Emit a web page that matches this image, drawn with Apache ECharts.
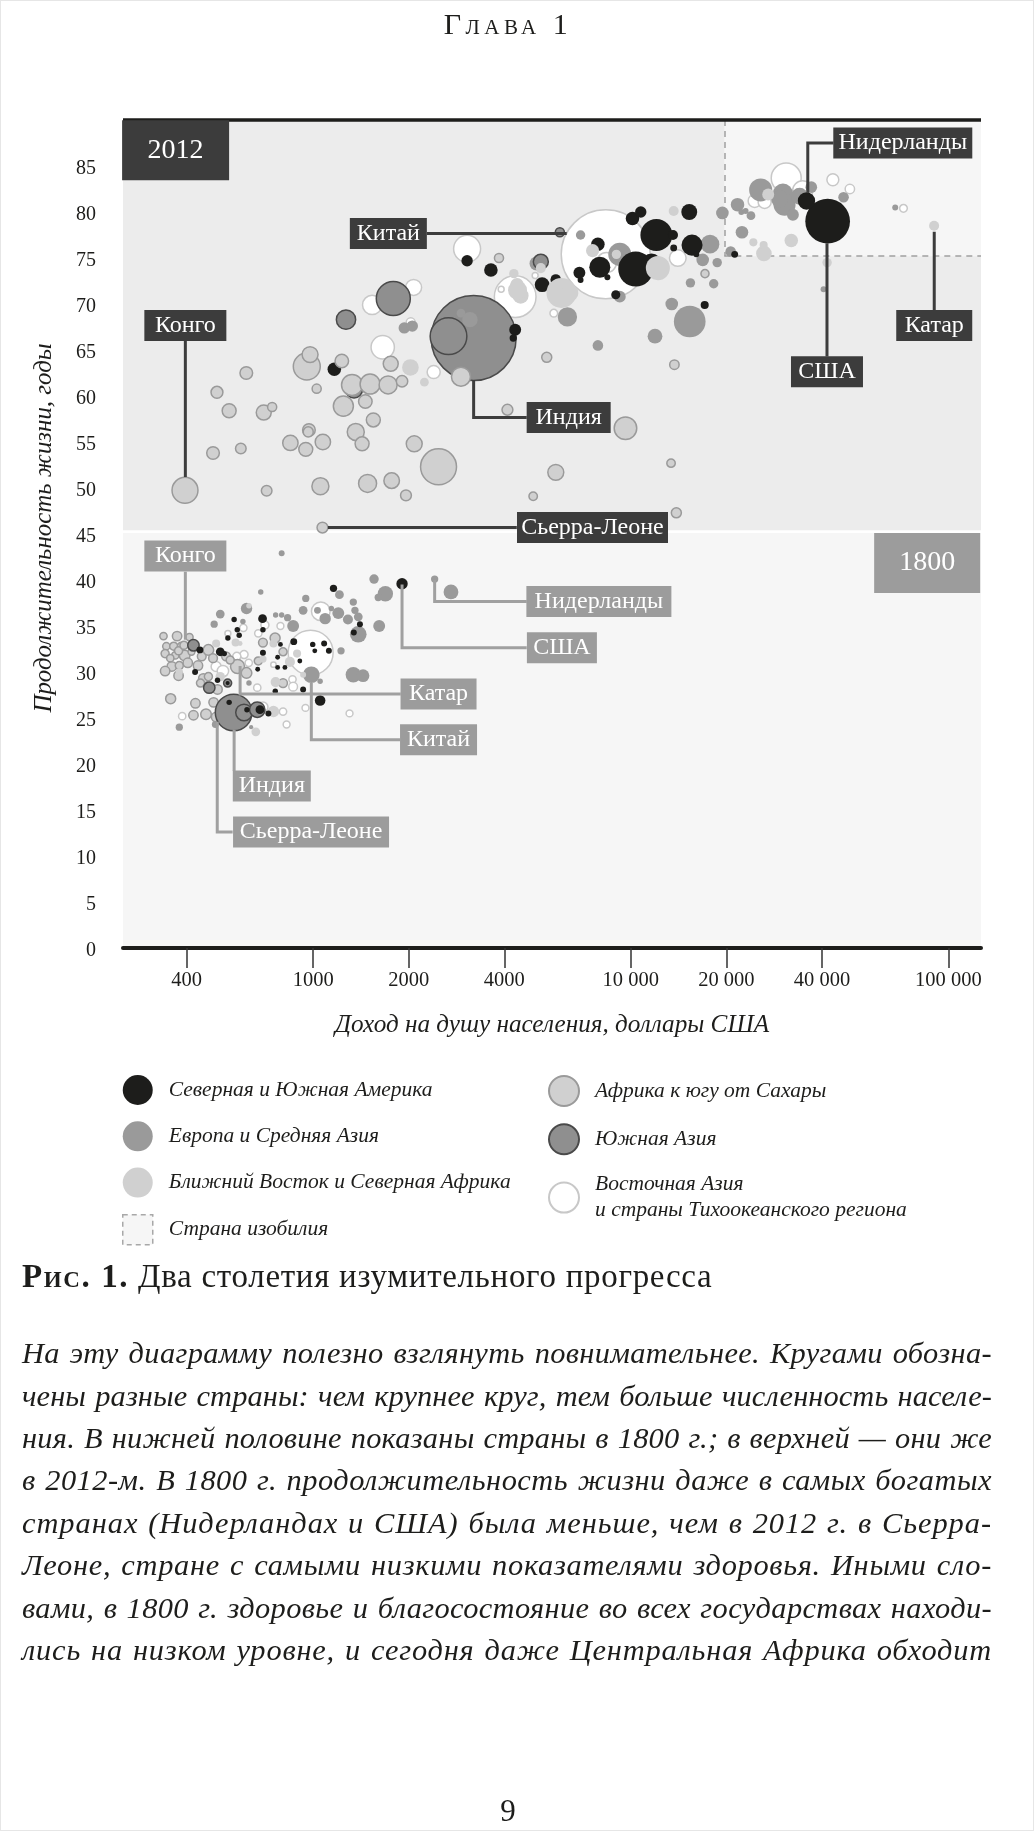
<!DOCTYPE html>
<html lang="ru">
<head>
<meta charset="utf-8">
<title>Два столетия изумительного прогресса</title>
<script src="https://cdn.jsdelivr.net/npm/echarts@6/dist/echarts.min.js"></script>
<style>
html,body{margin:0;padding:0;background:#fff;}
#page{position:relative;width:1034px;height:1831px;overflow:hidden;font-family:"Liberation Serif",serif;color:#1d1d1b;}
#chart{position:absolute;left:0;top:0;width:1034px;height:1831px;}
.t{position:absolute;white-space:nowrap;}
#head{left:0;width:1016px;top:7px;text-align:center;font-size:30px;font-variant:small-caps;letter-spacing:4.5px;line-height:34px;}
#cap{left:22px;top:1256px;font-size:33px;line-height:40px;letter-spacing:.7px;}
#cap b{font-variant:small-caps;letter-spacing:1.6px;}
.p{left:22px;width:970px;font-style:italic;font-size:30.4px;line-height:42px;text-align:justify;text-align-last:justify;}
#num{left:0;width:1016px;top:1793px;text-align:center;font-size:31px;line-height:36px;}
#edge{position:absolute;left:0;top:0;width:1032px;height:1829px;border:1px solid #e6e6e6;pointer-events:none;}
</style>
</head>
<body>
<div id="page">
<div id="chart"></div>
<div id="edge"></div>
<div class="t" id="head">Глава 1</div>
<div class="t" id="cap"><b>Рис. 1.</b> Два столетия изумительного прогресса</div>
<div class="t p" style="top:1332px">На эту диаграмму полезно взглянуть повнимательнее. Кругами обозна-</div>
<div class="t p" style="top:1375px">чены разные страны: чем крупнее круг, тем больше численность населе-</div>
<div class="t p" style="top:1417px">ния. В нижней половине показаны страны в 1800 г.; в верхней — они же</div>
<div class="t p" style="top:1459px">в 2012-м. В 1800 г. продолжительность жизни даже в самых богатых</div>
<div class="t p" style="top:1502px">странах (Нидерландах и США) была меньше, чем в 2012 г. в Сьерра-</div>
<div class="t p" style="top:1544px">Леоне, стране с самыми низкими показателями здоровья. Иными сло-</div>
<div class="t p" style="top:1587px">вами, в 1800 г. здоровье и благосостояние во всех государствах находи-</div>
<div class="t p" style="top:1629px">лись на низком уровне, и сегодня даже Центральная Африка обходит</div>
<div class="t" id="num">9</div>
</div>
<script>
// Each point: [income per person, USD; life expectancy, years; population, millions]
const eastAsia2012 = [[8340,75.4,1341],[3053,76,123],[2072,71.8,43],[1534,69.9,63],[1656,65.3,92],[2396,62.6,29],[4326,70.8,294],[3908,71.6,6],[5000,73.1,6],[14060,75,47],[5723,69,10],[8382,74.5,68],[30860,83.7,152],[34750,82.3,68],[43270,83.5,24],[48950,82.5,15],[72200,80.4,10],[24550,81.2,29],[26390,81.1,29],[2029,68,14]];
const europe2012 = [[25640,82.4,90],[30130,82,68],[30490,80.8,82],[32390,79.7,24],[37010,82.7,23],[46760,81.6,19],[34006,81.7,49],[29420,81.4,49],[21680,80.8,31],[22290,80,6],[22990,80.1,6],[23900,79.6,13],[19430,79.9,27],[22390,77.8,27],[68000,80.5,6],[40450,71.6,6],[20630,75.7,19],[17760,76.5,59],[16845,74.8,27],[18710,74.5,15],[15410,72.3,15],[18240,72.2,15],[13460,70,27],[15332,68.1,170],[11920,66.5,37],[7880,65.5,19],[9235,70.8,24],[6950,77.5,15],[6317,68.6,63],[9235,75.4,90],[5050,74.4,33],[1936,67.4,22],[2052,67.6,22]];
const southAsia2012 = [[3201,66.3,1224],[2668,66.5,228],[1788,70.6,196],[1269,68.3,63],[5980,77.8,14],[5210,74.6,38],[1345,60.7,49]];
const overIndia2012 = [[2920,69,13],[3117,68.3,40]];
const americas2012 = [[41670,79,338],[35740,81.2,51],[12040,77.5,173],[13580,77.5,17],[15280,80,43],[10125,79.3,31],[10750,80,22],[15590,76.4,75],[13650,76.1,8],[16080,75.4,6],[21240,75.4,8],[10365,73.8,207],[11620,74.4,68],[7990,74,75],[7880,76.5,31],[6890,73.4,24],[6950,72.6,6],[8440,72.9,6],[8970,71,14],[5795,72.6,17],[17090,69.9,11],[3053,74.7,22],[3628,73.7,31],[5260,72.1,37],[4326,67.2,24],[4265,66.3,9],[1166,62.9,31],[5807,72.7,17]];
const mena2012 = [[90150,78.5,17],[27080,81.9,24],[32010,76.9,31],[26250,75.5,41],[26200,76.4,11],[24320,76.7,11],[41500,74.5,15],[13650,80.1,17],[12170,73.9,98],[7580,75.8,29],[6050,71.2,152],[6430,71.2,49],[4285,73.3,15],[4385,72.1,31],[4500,70.9,43],[5210,73.9,17],[2024,63.1,47],[2240,61.5,13],[4400,71.5,61]];
const africa2012 = [[395,49.75,114],[484,53.8,27],[592,54.3,19],[498,60.4,24],[544,58.4,33],[616,62.5,27],[699,58.2,38],[743,58.8,14],[714,49.7,19],[848,54.9,40],[948,54.2,33],[1073,55,40],[970,56.3,27],[965,56.1,17],[1054,50.2,49],[955,63.2,123],[978,64.5,43],[1026,60.8,14],[1231,63.8,31],[1326,61.2,75],[1511,61.3,68],[1722,61.2,55],[1905,61.6,22],[1755,63.5,38],[1245,58.9,68],[1460,59.4,31],[1547,57.4,33],[1362,56.1,49],[1426,54.8,33],[1484,50.5,55],[1767,50.8,41],[1960,49.2,20],[2081,54.8,43],[2482,52.3,219],[1070,45.7,20],[4090,58.5,20],[4929,49.1,12],[5438,64.2,17],[5807,51.7,43],[9623,56.5,86],[13390,52.7,12],[13914,47.3,17],[13720,63.4,15],[2920,62.1,61],[3847,75,14],[17126,73.3,11],[9011,75.4,20]];

const eastAsia1800 = [[982,32.1,343],[1057,36.6,59],[539,34.2,6],[603,34.8,9],[705,35.1,11],[672,34.2,9],[789,35,8],[606,31.9,11],[575,31.7,11],[627,31,9],[495,30.6,17],[520,30.1,22],[750,30.8,5],[667,28.3,9],[861,29.2,9],[865,28.4,13],[946,26.1,8],[804,25.7,9],[825,24.3,8],[387,25.2,9],[1302,25.5,8],[695,26.2,17]];
const europe1800 = [[796,42.9,6],[1555,40.1,15],[1210,38.4,13],[1688,38.5,40],[1603,38.1,9],[1338,37.6,9],[1354,36.7,9],[1387,36,13],[948,38,9],[930,36.7,13],[684,38.7,5],[510,36.3,13],[488,35.2,9],[601,35.5,5],[762,36.2,5],[796,36.2,5],[831,35.9,9],[865,35,24],[1032,36.7,8],[1141,36.9,5],[1200,36.4,24],[1091,35.8,22],[1287,35.7,17],[1614,35,24],[1387,34.1,47],[1224,32.3,9],[1338,29.7,40],[1436,29.6,27],[987,29.7,47],[1052,29,5],[628,28.8,5],[379,24,9],[617,36.9,22],[2413,40.1,9],[2716,38.7,37],[638,24,3],[492,24.3,8]];
const southAsia1800 = [[562,25.6,228],[606,25.6,47],[667,25.9,40],[420,32.9,22],[471,28.3,22],[538,28.8,11]];
const americas1800 = [[1905,39.6,22],[1159,39.1,9],[564,35.7,5],[693,35.8,13],[695,34.6,5],[577,34.6,5],[585,34,5],[539,33.7,5],[440,32.4,8],[510,32.2,13],[525,32,5],[695,32.1,6],[789,33,4],[869,33.3,8],[997,33,5],[1083,33.1,6],[1012,32.3,4],[1121,32.3,6],[908,31.2,4],[773,31.6,4],[773,30.5,4],[815,30.5,4],[669,30.3,4],[425,30,6],[500,29.1,5],[538,28.8,3],[930,28.1,6],[760,27.9,5],[1404,35.2,6],[1343,34.3,6],[1052,26.9,19],[544,26.7,5],[619,25.9,5],[680,25.9,13],[723,25.5,6]];
const mena1800 = [[628,37.2,5],[495,33.1,11],[570,33.2,11],[589,33.1,4],[379,30,9],[510,29.5,15],[762,28.9,17],[750,25.7,22],[660,23.5,13],[930,29.7,6],[890,32,11],[845,31.1,17],[695,31.4,9],[750,33.1,11]];
const africa1800 = [[338,33.9,9],[373,33.9,15],[408,33.8,9],[345,32.8,9],[364,32.8,11],[385,32.8,11],[342,32,11],[368,31.8,9],[394,31.8,19],[377,32.3,11],[359,30.6,15],[342,30.1,15],[379,30.7,11],[403,31,15],[377,29.6,15],[434,30.7,15],[446,31.7,13],[468,32.4,19],[484,31.5,13],[532,31.7,13],[451,29.3,15],[442,28.8,11],[500,28.1,15],[486,26.7,15],[426,26.6,15],[420,25.3,15],[460,25.4,19],[495,25.1,15],[356,27.1,17],[578,30.6,33],[617,29.9,19],[695,33.2,13],[759,33.7,17],[672,31.2,11],[804,32.2,11],[804,28.8,13],[392,32.9,11],[355,31.5,9],[414,32.2,8],[468,29.5,11],[548,31.3,11]];

const xTicks = [400,1000,2000,4000,10000,20000,40000,100000];
const yTicks = [0,5,10,15,20,25,30,35,40,45,50,55,60,65,70,75,80,85];
const incomeMin = 252, incomeMax = 126650, lifeMax = 90;
const abundanceIncome = 19700, abundanceLife = 75.2;

// Callouts: [label centre income, life, text, box width]
const callouts2012 = [[1725,77.66,'Китай',77],[396,67.67,'Конго',82],[6375,57.66,'Индия',84],[7577,45.7,'Сьерра-Леоне',151],[71840,87.5,'Нидерланды',139],[90240,67.66,'Катар',76],[41470,62.63,'США',72]];
const callouts1800 = [[396,42.6,'Конго',82],[7936,37.66,'Нидерланды',145],[6070,32.64,'США',70],[2482,27.6,'Катар',76],[2482,22.64,'Китай',77],[741,17.6,'Индия',78],[985,12.6,'Сьерра-Леоне',156]];
const years = [[369,86.7,'2012',107,'#3c3c3c'],[85720,41.85,'1800',106,'#9c9c9c']];
const leaders2012 = [
 [[2280,77.66],[6285,77.66]],
 [[396,66],[396,51.2]],
 [[3201,61.74],[3201,57.66],[4704,57.66]],
 [[1113,45.7],[4377,45.7]],
 [[43490,87.5],[36080,87.5],[36080,82.07]],
 [[90240,77.86],[90240,69.35]],
 [[41470,76.6],[41470,64.3]]
];
const leaders1800 = [
 [[396,40.9],[396,33.5]],
 [[2413,40],[2413,37.66],[4704,37.66]],
 [[1905,39.5],[1905,32.64],[4704,32.64]],
 [[589,30.65],[589,27.6],[1887,27.6]],
 [[987,28.8],[987,22.64],[1877,22.64]],
 [[564,23.7],[564,19.24]],
 [[499,24.6],[499,12.6],[558,12.6]]
];

const REG = {
  am:'Северная и Южная Америка', eu:'Европа и Средняя Азия', me:'Ближний Восток и Северная Африка',
  ab:'Страна изобилия', af:'Африка к югу от Сахары', sa:'Южная Азия',
  ea:'Восточная Азия\nи страны Тихоокеанского региона'
};
const STYLE = {
  am:{color:'#1d1d1b'},
  eu:{color:'#9a9a9a'},
  me:{color:'#d0d0d0'},
  af:{color:'#d0d0d0',borderColor:'#9a9a9a',borderWidth:1.5},
  sa:{color:'#8f8f8f',borderColor:'#4a4a4a',borderWidth:1.5},
  ea:{color:'#ffffff',borderColor:'#c8c8c8',borderWidth:1.5}
};
const SERIF = '"Liberation Serif",serif';
const DARK = '#3c3c3c', LIGHT = '#a0a0a0';

const bubbles = (key, data) => ({
  type:'scatter', name:REG[key], data, z:3, silent:true,
  symbol:'circle', symbolSize:d => 2.43*Math.sqrt(d[2]),
  itemStyle:Object.assign({opacity:1}, STYLE[key]), animation:false
});
const leader = (pts, color) => ({
  type:'line', data:pts, showSymbol:false, symbol:'none', silent:true, z:4, animation:false,
  lineStyle:{color, width:3, cap:'butt', join:'miter'}
});
const boxes = (rows, bg) => ({
  type:'scatter', symbolSize:0, silent:true, z:6, animation:false, itemStyle:{opacity:1},
  data:rows.map(r => ({value:[r[0],r[1]], name:r[2], label:{width:r[3]}})),
  label:{show:true, opacity:1, position:'inside', formatter:'{b}', color:'#fff', backgroundColor:bg,
    height:31, lineHeight:31, align:'center', verticalAlign:'middle',
    fontFamily:SERIF, fontSize:24}
});

const series = [
  { type:'scatter', name:REG.ab, data:[], z:1, silent:true,
    itemStyle:{color:'#f6f6f6',borderColor:'#a8a8a8',borderWidth:1.5,opacity:1},
    markArea:{silent:true, z:1, data:[
      [{coord:[incomeMin,lifeMax],itemStyle:{color:'#ececec'}},{coord:[incomeMax,45.4]}],
      [{coord:[incomeMin,45.1],itemStyle:{color:'#f6f6f6'}},{coord:[incomeMax,0]}],
      [{coord:[abundanceIncome,lifeMax],itemStyle:{color:'#f6f6f6'}},{coord:[incomeMax,abundanceLife]}]
    ]},
    markLine:{silent:true, z:2, symbol:'none', animation:false, label:{show:false},
      lineStyle:{color:'#a0a0a0',width:1.5,type:[6,5]},
      data:[
        [{coord:[abundanceIncome,lifeMax]},{coord:[abundanceIncome,abundanceLife]}],
        [{coord:[abundanceIncome,abundanceLife]},{coord:[incomeMax,abundanceLife]}],
        [{coord:[incomeMin,lifeMax],lineStyle:{color:'#1d1d1b',width:3.5,type:'solid'}},{coord:[incomeMax,lifeMax]}]
      ]}
  },
  bubbles('ea',eastAsia2012), bubbles('eu',europe2012), bubbles('sa',southAsia2012), bubbles('eu',overIndia2012),
  bubbles('am',americas2012), bubbles('me',mena2012), bubbles('af',africa2012),
  bubbles('ea',eastAsia1800), bubbles('eu',europe1800), bubbles('af',africa1800),
  bubbles('me',mena1800), bubbles('sa',southAsia1800), bubbles('am',americas1800),
  ...leaders1800.map(p => leader(p, LIGHT)),
  ...leaders2012.map(p => leader(p, DARK)),
  boxes(callouts1800,'#9c9c9c'), boxes(callouts2012,DARK),
  { type:'scatter', symbolSize:0, silent:true, z:6, animation:false, itemStyle:{opacity:1},
    data:years.map(r => ({value:[r[0],r[1]], name:r[2],
      label:{width:r[3], backgroundColor:r[4]}})),
    label:{show:true, opacity:1, position:'inside', formatter:'{b}', color:'#fff', height:60, lineHeight:60,
      align:'center', verticalAlign:'middle', fontFamily:SERIF, fontSize:28}
  }
];

const legendBase = {
  orient:'vertical', selectedMode:false, itemWidth:30, itemHeight:30, itemGap:16.3, padding:0,
  textStyle:{fontFamily:SERIF, fontStyle:'italic', fontSize:21.5, color:'#1d1d1b', lineHeight:26, padding:[0,0,0,11]}
};

const chart = echarts.init(document.getElementById('chart'), null, {width:1034, height:1831});
chart.setOption({
  animation:false,
  backgroundColor:'#ffffff',
  grid:{left:123, right:53, top:120, bottom:883, containLabel:false},
  xAxis:{
    type:'log', logBase:10, min:incomeMin, max:incomeMax, z:10,
    name:'Доход на душу населения, доллары США', nameLocation:'middle', nameGap:65,
    nameTextStyle:{fontFamily:SERIF, fontStyle:'italic', fontSize:25.2, color:'#1d1d1b'},
    axisLine:{show:true, lineStyle:{color:'#1d1d1b', width:4}},
    axisTick:{show:true, length:20, customValues:xTicks, lineStyle:{color:'#333', width:1.5}},
    minorTick:{show:false}, splitLine:{show:false},
    axisLabel:{customValues:xTicks, margin:22, fontFamily:SERIF, fontSize:20.5, color:'#1d1d1b',
      formatter:v => { const n=Math.round(v); return n>=10000 ? String(n).replace(/(\d)(?=(\d{3})$)/,'$1 ') : String(n); }}
  },
  yAxis:{
    type:'value', min:0, max:lifeMax,
    name:'Продолжительность жизни, годы', nameLocation:'middle', nameGap:66,
    nameTextStyle:{fontFamily:SERIF, fontStyle:'italic', fontSize:24.9, color:'#1d1d1b', padding:[0,0,0,12]},
    axisLine:{show:false}, axisTick:{show:false}, splitLine:{show:false},
    axisLabel:{customValues:yTicks, margin:27, fontFamily:SERIF, fontSize:20, color:'#1d1d1b',
      verticalAlign:'top', lineHeight:5}
  },
  legend:[
    Object.assign({}, legendBase, {left:122, top:1075, data:[REG.am,REG.eu,REG.me,
      {name:REG.ab,icon:'rect',itemStyle:{color:'#f6f6f6',borderColor:'#a8a8a8',borderWidth:1.5,borderType:[5,4]}}]}),
    Object.assign({}, legendBase, {left:548, top:1075, data:[REG.af,REG.sa,REG.ea]})
  ],
  series
});

// Give every text line the spread the typesetter gave it: letters first, then justify.
document.querySelectorAll('.p').forEach(el => {
  const r = document.createRange(); r.selectNodeContents(el);
  el.style.textAlignLast = 'left';
  const w = r.getBoundingClientRect().width;
  const n = el.textContent.length;
  el.style.letterSpacing = Math.max(0, (970 - w - 14) / n) + 'px';
  el.style.textAlignLast = 'justify';
});
</script>
</body>
</html>
